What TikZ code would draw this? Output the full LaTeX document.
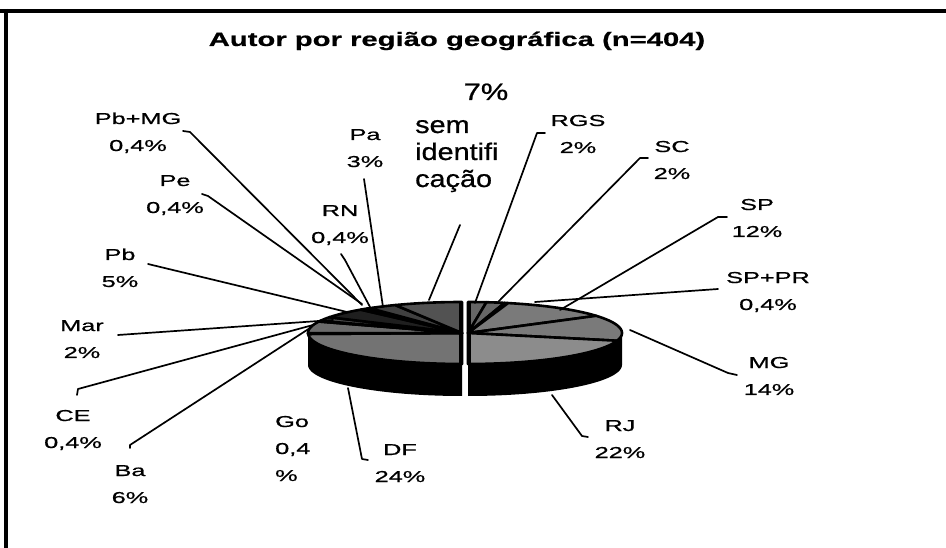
\documentclass[tikz,border=0pt]{standalone}
\usepackage{fontspec}
\setmainfont[FakeStretch=1.6,FakeBold=0.8]{Liberation Sans}
\newfontfamily\titlefont[FakeStretch=1.5,FakeBold=0.6]{Liberation Sans}
\newfontfamily\semfont[FakeStretch=1.2,FakeBold=0.8]{Liberation Sans}
\newfontfamily\pctfont[FakeStretch=1.3,FakeBold=0.8]{Liberation Sans}
\begin{document}
\begin{tikzpicture}[x=1pt,y=-1pt,
  lbl/.style={font=\fontsize{15.8}{27}\selectfont, align=center, anchor=base, inner sep=0pt},
  leader/.style={line width=1.7pt, line join=round, line cap=round},
  frameline/.style={line width=3.5pt},
  sep/.style={draw=black, line width=2.6pt, line join=round},
  wall/.style={fill=black}]
\useasboundingbox (0,0) rectangle (946,548);
\fill[white] (0,0) rectangle (946,548);
% frame
\draw[frameline] (0,11) -- (946,11);
\draw[line width=4pt] (6,9) -- (6,548);

% ---- pie: side walls
\fill[wall] plot[domain=90:180,samples=30] ({468+154*sin(\x)},{333-31*cos(\x)})
   -- plot[domain=180:90,samples=30] ({468+154*sin(\x)},{365-31*cos(\x)}) -- cycle;
\fill[wall] plot[domain=180:270,samples=30] ({462+154*sin(\x)},{333-31*cos(\x)})
   -- plot[domain=270:180,samples=30] ({462+154*sin(\x)},{365-31*cos(\x)}) -- cycle;
% ---- pie: top faces, right half
\foreach \a/\b/\c in {0/6.87/black!60, 6.87/13.74/black!60, 13.74/15.11/black,
    15.11/56.34/black!52, 56.34/104.43/black!52, 104.43/180/black!45}
  \filldraw[fill=\c, sep] (468,333) -- plot[domain=\a:\b, samples=25]
     ({468+154*sin(\x)},{333-31*cos(\x)}) -- cycle;
% ---- pie: top faces, left half
\foreach \a/\b/\c in {180/268.2/black!55, 268.2/269.7/black, 269.7/291.7/black!58,
    291.7/293.1/black, 293.1/300.5/black!70, 300.5/318.9/black!88, 318.9/320.3/black,
    320.3/321.8/black, 321.8/323.2/black, 323.2/334.3/black!75, 334.3/360/black!68}
  \filldraw[fill=\c, sep] (462,333) -- plot[domain=\a:\b, samples=25]
     ({462+154*sin(\x)},{333-31*cos(\x)}) -- cycle;
% cut faces
\fill[black] (468,302) rectangle (471,396);
\fill[black] (459,302) rectangle (462,396);

% ---- title and labels (multi-line nodes: base anchor = last line)
\node[font=\titlefont\bfseries\fontsize{19.5}{22}\selectfont, anchor=base, inner sep=0pt] (title) at (457,46) {Autor por região geográfica (n=404)};
\node[font=\pctfont\fontsize{23.7}{26}\selectfont, anchor=base, inner sep=0pt] (pct7) at (486,100) {7\%};
\node[font=\semfont\fontsize{24}{27}\selectfont, align=left, anchor=base west, inner sep=0pt] (sem) at (415,187) {sem\\identifi\\cação};

\node[lbl] (pbmg) at (138,151) {Pb+MG\\0,4\%};
\node[lbl] (pe) at (175,213) {Pe\\0,4\%};
\node[lbl] (pb) at (120,287) {Pb\\5\%};
\node[lbl] (rn) at (340,243) {RN\\0,4\%};
\node[lbl] (pa) at (365,167) {Pa\\3\%};
\node[lbl] (rgs) at (578,153) {RGS\\2\%};
\node[lbl] (sc) at (672,179) {SC\\2\%};
\node[lbl] (sp) at (757,237) {SP\\12\%};
\node[lbl] (sppr) at (768,310) {SP+PR\\0,4\%};
\node[lbl] (mg) at (769,395) {MG\\14\%};
\node[lbl] (rj) at (620,458) {RJ\\22\%};
\node[lbl] (df) at (400,482) {DF\\24\%};
\node[lbl, align=left, anchor=base west] (go) at (275,481) {Go\\0,4\\\%};
\node[lbl] (ba) at (130,503) {Ba\\6\%};
\node[lbl] (ce) at (73,448) {CE\\0,4\%};
\node[lbl] (mar) at (82,358) {Mar\\2\%};

% ---- leader coordinates
\coordinate (pbmg-s) at (183,131); \coordinate (pbmg-e) at (362,305);
\coordinate (pe-s) at (202,194);   \coordinate (pe-e) at (362,304);
\coordinate (pb-s) at (148,264);   \coordinate (pb-e) at (347,312);
\coordinate (rn-s) at (341,254);   \coordinate (rn-e) at (370,307);
\coordinate (pa-s) at (364,179);   \coordinate (pa-e) at (383,307);
\coordinate (sem-s) at (460,225);  \coordinate (sem-e) at (429,300);
\coordinate (rgs-s) at (545,133);  \coordinate (rgs-e) at (475,303);
\coordinate (sc-s) at (648,158);   \coordinate (sc-e) at (497,303);
\coordinate (sp-s) at (727,217);   \coordinate (sp-e) at (560,310);
\coordinate (sppr-s) at (718,289); \coordinate (sppr-e) at (535,302);
\coordinate (mg-s) at (737,375);   \coordinate (mg-e) at (630,330);
\coordinate (rj-s) at (588,437);   \coordinate (rj-e) at (552,395);
\coordinate (df-s) at (368,460);   \coordinate (df-e) at (348,388);
\coordinate (ba-s) at (130,448);   \coordinate (ba-e) at (310,328);
\coordinate (ce-s) at (77,395);    \coordinate (ce-e) at (313,325);
\coordinate (mar-s) at (118,335);  \coordinate (mar-e) at (333,320);

\draw[leader] (pbmg-s) -- ++(7,1) -- (pbmg-e);
\draw[leader] (pe-s) -- ++(6,2) -- (pe-e);
\draw[leader] (pb-s) -- (pb-e);
\draw[leader] (rn-s) -- ++(4,6) -- (rn-e);
\draw[leader] (pa-s) -- (pa-e);
\draw[leader] (sem-s) -- (sem-e);
\draw[leader] (rgs-s) -- ++(-8,0) -- (rgs-e);
\draw[leader] (sc-s) -- ++(-8,0) -- (sc-e);
\draw[leader] (sp-s) -- ++(-9,0) -- (sp-e);
\draw[leader] (sppr-s) -- (sppr-e);
\draw[leader] (mg-s) -- ++(-9,-2) -- (mg-e);
\draw[leader] (rj-s) -- ++(-6,-1) -- (rj-e);
\draw[leader] (df-s) -- ++(-6,-1) -- (df-e);
\draw[leader] (ba-s) -- ++(0,-3) -- (ba-e);
\draw[leader] (ce-s) -- ++(1,-6) -- (ce-e);
\draw[leader] (mar-s) -- (mar-e);
\end{tikzpicture}
\end{document}
